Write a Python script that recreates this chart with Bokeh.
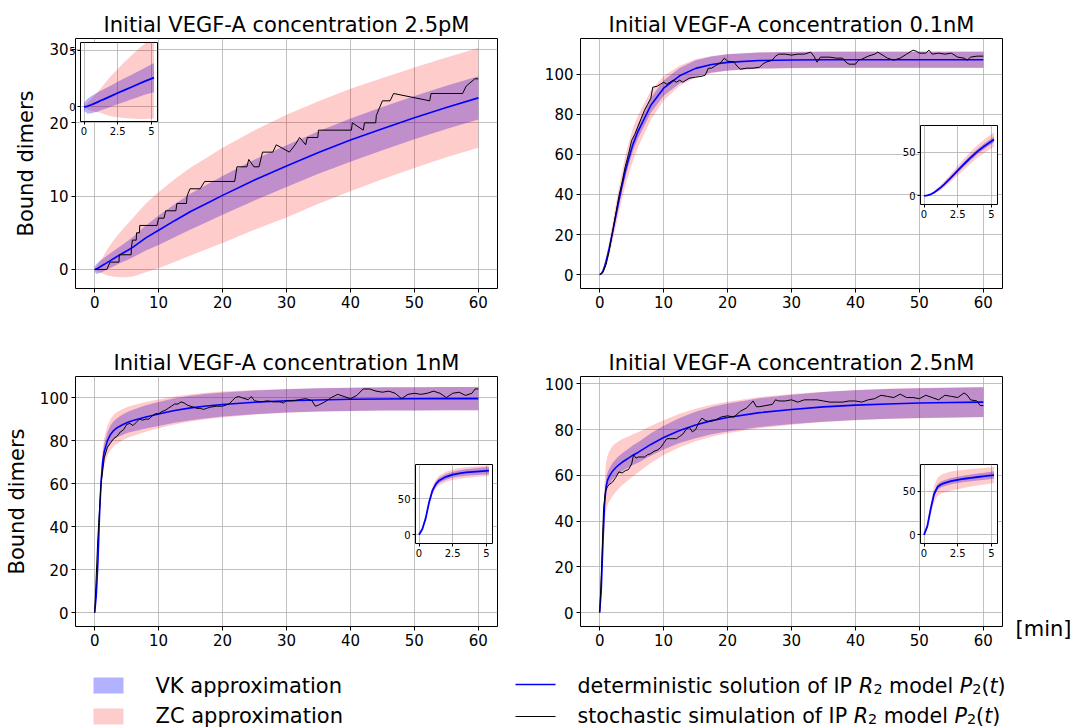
import numpy as np
from jinja2 import Template
from bokeh.plotting import figure
from bokeh.models import Range1d, FixedTicker, CustomJSTickFormatter, ColumnDataSource
from bokeh.core.properties import value
from bokeh.embed import file_html
from bokeh.resources import INLINE

FONT = "DejaVu Sans"

# ---------------- data ----------------
TITLES = ["Initial VEGF-A concentration 2.5pM", "Initial VEGF-A concentration 0.1nM",
          "Initial VEGF-A concentration 1nM", "Initial VEGF-A concentration 2.5nM"]
X_TICKS = [0, 10, 20, 30, 40, 50, 60]
INSET_X_TICKS = [0, 2.5, 5]

T = [0, 0.25, 0.5, 0.75, 1, 1.25, 1.5, 2, 2.5, 3, 3.5, 4, 4.5, 5.2, 6, 8, 10, 12.5, 15, 17.5,
     20, 25, 30, 35, 40, 45, 50, 55, 60]

# deterministic solution P2(t)
det_25pM = [0, .06, .17, .3, .43, .57, .7, .97, 1.24, 1.5, 1.76, 2.02, 2.28, 2.62, 3.05, 4.3, 5.35,
            6.65, 7.9, 9.0, 10.1, 12.2, 14.1, 15.95, 17.65, 19.2, 20.7, 22.1, 23.4]
det_01nM = [0, .5, 1.8, 3.9, 6.7, 9.8, 13.3, 21, 29, 37, 44.5, 51.5, 57.5, 65, 71.5, 84.5, 93, 99.2,
            102.9, 104.8, 105.9, 106.8, 107.1, 107.2, 107.2, 107.2, 107.2, 107.2, 107.2]
det_1nM = [0, 8, 23, 45, 61, 70, 75, 80, 83, 84.8, 86, 86.8, 87.6, 88.5, 89.3, 91, 92.4, 94, 95.2,
           96.1, 96.8, 97.8, 98.5, 98.9, 99.2, 99.35, 99.45, 99.5, 99.5]
det_25nM = [0, 10, 30, 47, 55, 58, 59.5, 61.8, 63.3, 64.6, 65.7, 66.6, 67.5, 68.8, 70, 73.5, 76.5,
            79.6, 82, 83.9, 85.3, 87.4, 88.8, 89.9, 90.7, 91.2, 91.6, 91.8, 92.0]

# VK approximation half-width
vk_25pM = [.35, .65, .75, .8, .85, .87, .9, .95, 1.0, 1.05, 1.1, 1.15, 1.2, 1.3, 1.4, 1.7, 2.0, 2.25,
           2.45, 2.55, 2.65, 2.8, 2.85, 2.9, 2.95, 2.95, 2.95, 2.95, 2.95]
vk_01nM = [0, .3, .6, .9, 1.2, 1.4, 1.6, 2.0, 2.3, 2.6, 2.8, 3.0, 3.15, 3.3, 3.5, 3.7, 3.8, 3.9, 4.0,
           4.0, 4.0, 4.0, 4.0, 4.0, 4.0, 4.0, 4.0, 4.0, 4.0]
vk_1nM = [0, 1, 2, 2.8, 3.2, 3.4, 3.6, 3.9, 4.1, 4.3, 4.45, 4.6, 4.75, 4.9, 5.1, 5.4, 5.6, 5.7, 5.7,
          5.65, 5.6, 5.5, 5.4, 5.4, 5.4, 5.4, 5.4, 5.4, 5.4]
vk_25nM = [0, 1.5, 2.5, 3.0, 3.3, 3.4, 3.5, 3.6, 3.7, 3.8, 3.9, 4.0, 4.1, 4.3, 4.5, 4.9, 5.2, 5.5, 5.8,
           6.0, 6.1, 6.3, 6.4, 6.5, 6.5, 6.5, 6.5, 6.5, 6.5]

# ZC approximation half-width
zc_25pM = [0, .3, .5, .7, .9, 1.1, 1.35, 1.8, 2.15, 2.5, 2.8, 3.1, 3.35, 3.65, 4.0, 4.7, 5.2, 5.65,
           6.0, 6.25, 6.5, 6.8, 7.0, 7.0, 7.0, 6.9, 6.85, 6.8, 6.8]
zc_01nM = [0, .5, 1.0, 1.6, 2.3, 2.9, 3.5, 4.6, 5.5, 6.3, 6.9, 7.4, 7.8, 8.2, 8.0, 7.2, 6.1, 5.0, 4.5,
           4.3, 4.2, 4.1, 4.1, 4.1, 4.1, 4.1, 4.1, 4.1, 4.1]
zc_1nM = [0, 1.5, 3, 4.5, 5.5, 6.1, 6.5, 7.0, 7.2, 7.3, 7.3, 7.3, 7.25, 7.2, 7.1, 6.9, 6.7, 6.5, 6.3,
          6.15, 6.0, 5.7, 5.5, 5.4, 5.4, 5.4, 5.4, 5.4, 5.4]
zc_25nM = [0, 3.5, 7, 9.5, 10.5, 10.8, 11, 11, 10.7, 10.4, 10.1, 9.8, 9.5, 9.2, 8.8, 8.1, 7.6, 7.3,
           7.1, 7.0, 6.9, 6.8, 6.7, 6.6, 6.6, 6.6, 6.6, 6.6, 6.6]

# stochastic simulation (time, bound dimers)
sto_25pM = [(0, 0), (1.9, 0), (2.4, 1), (3.8, 1), (3.85, 2), (5.7, 2), (5.75, 3), (5.9, 4), (6.5, 4),
            (6.55, 5), (7.0, 5), (7.05, 6), (9.75, 6), (10.0, 7), (10.85, 7), (11.1, 8), (12.7, 8),
            (12.85, 9), (14.35, 9), (14.45, 10), (14.9, 11), (16.5, 11), (17.2, 12), (21.9, 12),
            (22.25, 14), (23.8, 14), (24.1, 15), (24.9, 14), (25.7, 14), (26.25, 16), (27.85, 16),
            (28.4, 17), (30.45, 16), (31.35, 17), (32.05, 18), (33.0, 17), (33.25, 18), (34.9, 18),
            (35.0, 19), (40.15, 19), (40.3, 20), (42.0, 19), (42.2, 20), (43.95, 20), (44.05, 21),
            (45.0, 23), (46.2, 23), (46.75, 24), (52.4, 23), (52.6, 24), (57.55, 24), (58.1, 25),
            (59.45, 26), (60, 26)]
sto_01nM = [(0, 0), (0.5, 1), (1, 5), (1.5, 12), (2, 21), (2.5, 30), (3, 39), (3.5, 46), (4, 54),
            (4.5, 60), (5, 67), (5.5, 70), (6, 74), (6.5, 78), (7, 82), (7.5, 85), (8, 88), (8.3, 93.5),
            (9, 94), (9.5, 95), (10, 96), (10.5, 95), (11, 96), (11.5, 97), (12, 96), (12.5, 97),
            (13, 96), (13.5, 97), (14, 98), (15, 98.5), (16, 99), (16.5, 99.5), (17, 103), (17.5, 103),
            (18, 104), (18.5, 105), (19, 106), (19.5, 108), (20, 106.5), (21, 106), (21.5, 104),
            (22, 102.5), (23, 103), (24, 103), (25, 103.5), (25.5, 105), (26, 106), (27, 107),
            (27.5, 109), (28, 110), (29, 110), (30, 109.5), (31, 110), (32, 110), (33, 111),
            (33.5, 109), (34, 106), (34.5, 108.5), (36, 108.5), (37, 108), (38, 108), (38.5, 106),
            (39, 105), (40, 105), (40.5, 107), (41, 107.5), (42, 109), (43, 110), (43.5, 111),
            (44.5, 109), (45, 108), (46, 107), (47, 108), (48, 110), (49, 112), (49.5, 111.5),
            (50, 110.5), (51, 110.5), (51.5, 112), (52, 110), (53, 110.5), (54, 110), (55, 110.5),
            (56, 108.5), (57, 108), (57.5, 107), (58, 108.5), (59, 109), (60, 109)]
sto_1nM = [(0, 0), (0.5, 35), (1, 60), (1.5, 72), (2, 77), (2.5, 79), (3, 81), (3.5, 82), (4, 84),
           (4.5, 85), (5, 87.5), (5.5, 88), (6, 87), (6.5, 88.5), (7, 90), (7.5, 89.5), (8, 90),
           (8.5, 90), (9, 91.5), (9.5, 92.5), (10, 92.5), (10.5, 93.5), (11, 94), (11.5, 95), (12, 96),
           (12.5, 97), (13, 97), (13.5, 98), (14, 97.5), (14.5, 96.5), (15, 96), (15.5, 95.5), (16, 95),
           (16.5, 95), (17, 94.5), (17.5, 95), (18, 95.5), (19, 96), (20, 96), (21, 97), (21.5, 98.5),
           (22, 100), (22.5, 100.5), (23, 100), (24, 99), (24.5, 100.5), (25, 98.5), (26, 98),
           (27, 98.5), (28, 98), (29, 98), (29.5, 97.5), (30, 98.5), (31, 98.5), (32, 99), (33, 99.5),
           (34, 98.5), (34.5, 96), (35, 96.5), (36, 98), (37, 100), (38, 101.5), (39, 100.5),
           (40, 99.5), (41, 101), (42, 104), (43, 104), (44, 103), (45, 102.5), (46, 103), (47, 102),
           (48, 99.5), (49, 101.5), (50, 102), (51, 101.5), (52, 102), (53, 103), (54, 102), (55, 100),
           (56, 102), (57, 102.5), (58, 101), (59, 102), (59.5, 104), (60, 104)]
sto_25nM = [(0, 0), (0.3, 20), (0.6, 45), (0.9, 53), (1.2, 55), (1.5, 56), (2, 57), (2.5, 59),
            (3, 61.5), (3.5, 61), (4, 62), (4.5, 62.5), (5, 65), (5.3, 69), (5.7, 67.5), (6, 68),
            (7, 68), (7.5, 69), (8, 69.5), (8.5, 70.5), (9, 71), (9.5, 72), (10, 74), (10.5, 76),
            (11, 76), (12, 76), (12.5, 77), (13, 78), (13.5, 80), (14, 81), (14.5, 79), (15, 80),
            (15.5, 83), (16, 85), (16.5, 84), (17, 83.5), (18, 84), (19, 85.5), (20, 86), (21, 85.5),
            (22, 88), (23, 89.5), (23.5, 91), (24, 92.5), (24.5, 90), (25, 90), (26, 90.5), (27, 91),
            (27.5, 93), (28, 92.5), (29, 92.5), (30, 93), (31, 92), (31.5, 92.5), (32, 93), (33, 93),
            (34, 93), (35, 92.5), (36, 92), (37, 92), (38, 92), (39, 92.5), (40, 92.5), (41, 92),
            (42, 93), (43, 93.5), (44, 95), (45, 94.5), (46, 94), (47, 95.5), (48, 94), (49, 94),
            (50, 93.5), (51, 95), (52, 94), (53, 93), (54, 95), (55, 94.5), (56, 94), (56.5, 95),
            (57, 96), (57.5, 95), (58, 93), (59, 92.5), (59.5, 90.5), (60, 90.5)]

for arr in (det_25pM, det_01nM, det_1nM, det_25nM, vk_25pM, vk_01nM, vk_1nM, vk_25nM,
            zc_25pM, zc_01nM, zc_1nM, zc_25nM):
    assert len(arr) == len(T), len(arr)

# axis limits (as in the picture)
Y_LIMITS = [(-2.6, 31.5), (-6.9, 117.8), (-6.4, 109.8), (-6.1, 103.2)]
Y_TICKS = [[0, 10, 20, 30], [0, 20, 40, 60, 80, 100], [0, 20, 40, 60, 80, 100], [0, 20, 40, 60, 80, 100]]
INSET_Y_LIMITS = [(-1.3, 5.75), (-9.9, 81), (-12, 97), (-10, 81)]
INSET_Y_TICKS = [[0, 5], [0, 50], [0, 50], [0, 50]]
INSET_T_MAX = 5.2

# ---------------- styling helpers ----------------
def style_axes(p, tick_size, tick_out, standoff):
    for ax in list(p.xaxis) + list(p.yaxis):
        ax.axis_line_color = None
        ax.major_tick_line_color = "black"
        ax.major_tick_line_width = 1
        ax.major_tick_in = 0
        ax.major_tick_out = tick_out
        ax.minor_tick_line_color = None
        ax.major_label_text_font = FONT
        ax.major_label_text_font_size = tick_size
        ax.major_label_text_color = "black"
        ax.major_label_standoff = standoff
    p.grid.grid_line_color = "#b0b0b0"
    p.grid.grid_line_width = 0.8


def main_panel(name, title, det, vk, zc, sto, ylim, yticks, ylabel, bl, br):
    t = np.array(T, dtype=float)
    d = np.array(det, dtype=float)
    v = np.array(vk, dtype=float)
    z = np.array(zc, dtype=float)
    src = ColumnDataSource(dict(t=t, det=d, vk_lo=d - v, vk_hi=d + v, zc_lo=d - z, zc_hi=d + z))
    p = figure(name=name, title=title, frame_width=422, frame_height=250,
               x_range=Range1d(-3, 63), y_range=Range1d(*ylim),
               toolbar_location=None, output_backend="svg",
               min_border_left=bl, min_border_right=br, min_border_top=50, min_border_bottom=36,
               background_fill_color="white", border_fill_color=None,
               outline_line_color="black", outline_line_width=1)
    p.title.text_font = FONT
    p.title.text_font_size = "21px"
    p.title.text_font_style = "normal"
    p.title.text_color = "black"
    p.title.align = "center"
    p.title.standoff = 3
    p.xaxis.ticker = FixedTicker(ticks=X_TICKS)
    p.yaxis.ticker = FixedTicker(ticks=yticks)
    style_axes(p, "15px", 4, 3)
    if ylabel:
        p.yaxis.axis_label = ylabel
        p.yaxis.axis_label_text_font = FONT
        p.yaxis.axis_label_text_font_size = "21px"
        p.yaxis.axis_label_text_font_style = "normal"
        p.yaxis.axis_label_text_color = "black"
        p.yaxis.axis_label_standoff = 8
    p.varea(x="t", y1="vk_lo", y2="vk_hi", source=src, fill_color="blue", fill_alpha=0.3)
    p.varea(x="t", y1="zc_lo", y2="zc_hi", source=src, fill_color="red", fill_alpha=0.2)
    p.line(x="t", y="det", source=src, line_color="blue", line_width=1.6)
    st = [a for a, b in sto]
    sy = [b for a, b in sto]
    p.line(x=st, y=sy, line_color="black", line_width=1)
    return p


def inset_panel(name, det, vk, zc, ylim, yticks):
    n = sum(1 for x in T if x <= INSET_T_MAX)
    t = np.array(T[:n], dtype=float)
    d = np.array(det[:n], dtype=float)
    v = np.array(vk[:n], dtype=float)
    z = np.array(zc[:n], dtype=float)
    src = ColumnDataSource(dict(t=t, det=d, vk_lo=d - v, vk_hi=d + v, zc_lo=d - z, zc_hi=d + z))
    p = figure(name=name, frame_width=77, frame_height=79,
               x_range=Range1d(-0.26, 5.46), y_range=Range1d(*ylim),
               toolbar_location=None, output_backend="svg",
               min_border_left=24, min_border_right=4, min_border_top=4, min_border_bottom=20,
               background_fill_color="white", border_fill_color=None,
               outline_line_color="black", outline_line_width=1)
    p.xaxis.ticker = FixedTicker(ticks=INSET_X_TICKS)
    p.yaxis.ticker = FixedTicker(ticks=yticks)
    p.xaxis.formatter = CustomJSTickFormatter(code="return String(tick);")
    p.yaxis.formatter = CustomJSTickFormatter(code="return String(tick);")
    style_axes(p, "10px", 3, 2)
    p.varea(x="t", y1="vk_lo", y2="vk_hi", source=src, fill_color="blue", fill_alpha=0.3)
    p.varea(x="t", y1="zc_lo", y2="zc_hi", source=src, fill_color="red", fill_alpha=0.2)
    p.line(x="t", y="det", source=src, line_color="blue", line_width=1.8)
    return p


dets = [det_25pM, det_01nM, det_1nM, det_25nM]
vks = [vk_25pM, vk_01nM, vk_1nM, vk_25nM]
zcs = [zc_25pM, zc_01nM, zc_1nM, zc_25nM]
stos = [sto_25pM, sto_01nM, sto_1nM, sto_25nM]
ylabels = ["Bound dimers", None, "Bound dimers", None]
borders = [(75, 8), (60, 8), (80, 8), (60, 8)]

mains = []
insets = []
for i in range(4):
    mains.append(main_panel(f"main{i}", TITLES[i], dets[i], vks[i], zcs[i], stos[i], Y_LIMITS[i],
                            Y_TICKS[i], ylabels[i], borders[i][0], borders[i][1]))
    insets.append(inset_panel(f"inset{i}", dets[i], vks[i], zcs[i], INSET_Y_LIMITS[i], INSET_Y_TICKS[i]))

# ---------------- text-only canvases (page-pixel coordinates) ----------------
def text_canvas(name, left, top, width, height):
    f = figure(name=name, width=width, height=height,
               x_range=Range1d(left, left + width), y_range=Range1d(top + height, top),
               toolbar_location=None, output_backend="svg", min_border=0,
               x_axis_location=None, y_axis_location=None, outline_line_color=None,
               background_fill_color=None, border_fill_color=None)
    f.grid.visible = False
    return f


W = {' ': .318, '(': .390, ')': .390, '2': .636, 'I': .295, 'P': .603, 'R': .695, 'a': .613,
     'c': .550, 'd': .635, 'e': .615, 'f': .352, 'h': .634, 'i': .278, 'l': .278, 'm': .974,
     'n': .634, 'o': .612, 'r': .411, 's': .521, 't': .392, 'u': .634}


def rich_text(fig, x0, y0, pieces, size):
    x = x0
    for s, style, scale, dy in pieces:
        fs = size * scale
        w = sum(W.get(c, 0.6) for c in s) * fs
        lead = (len(s) - len(s.lstrip(' '))) * W[' '] * fs
        txt = s.strip(' ')
        if txt:
            fig.text(x=[x + lead], y=[y0 + dy], text=[txt], text_font=value(FONT),
                     text_font_size=f"{fs:.1f}px", text_font_style=style,
                     text_baseline="alphabetic", text_align="left", text_color="black")
        x += w


LEG_TOP = 662
leg = text_canvas("legend", 0, LEG_TOP, 1071, 727 - LEG_TOP)
rows_y = [685, 715]
leg.quad(left=[93], right=[123], top=[677], bottom=[693], fill_color="blue", fill_alpha=0.3, line_color=None)
leg.quad(left=[93], right=[123], top=[708], bottom=[724], fill_color="red", fill_alpha=0.2, line_color=None)
leg.text(x=[155, 155], y=rows_y, text=["VK approximation", "ZC approximation"], text_font=value(FONT),
         text_font_size="21px", text_baseline="alphabetic", text_color="black")
leg.segment(x0=[515], y0=[684], x1=[555], y1=[684], line_color="blue", line_width=1.6)
leg.segment(x0=[515], y0=[716], x1=[555], y1=[716], line_color="black", line_width=1.2)

tail = [("R", "italic", 1, 0), ("2", "normal", 0.7, 3.5), (" model ", "normal", 1, 0),
        ("P", "italic", 1, 0), ("2", "normal", 0.7, 3.5), ("(", "normal", 1, 0),
        ("t", "italic", 1, 0), (")", "normal", 1, 0)]
rich_text(leg, 577, rows_y[0], [("deterministic solution of IP ", "normal", 1, 0)] + tail, 20.6)
rich_text(leg, 577, rows_y[1], [("stochastic simulation of IP ", "normal", 1, 0)] + tail, 20.6)

unit = text_canvas("unit", 1008, 612, 63, 36)
unit.text(x=[1015], y=[628], text=["[min]"], text_font=value(FONT), text_font_size="21px",
          text_baseline="alphabetic", text_align="left", text_color="black")

# ---------------- page ----------------
frames = [(75, 38), (580, 38), (75, 376), (580, 376)]
inset_frames = [(80, 42), (920, 125), (415, 464), (920, 464)]
placements = []
for i in range(4):
    placements.append((f"main{i}", frames[i][0] - borders[i][0], frames[i][1] - 50))
for i in range(4):
    placements.append((f"inset{i}", inset_frames[i][0] - 24, inset_frames[i][1] - 4))
placements.append(("legend", 0, LEG_TOP))
placements.append(("unit", 1008, 612))

PAGE = Template("""<!DOCTYPE html>
<html lang="en">
<head>
<meta charset="utf-8">
<title>{{ title }}</title>
<style>
html, body { margin: 0; padding: 0; background: #ffffff; }
#page { position: relative; width: 1071px; height: 727px; overflow: hidden; background: #ffffff; }
.slot { position: absolute; }
</style>
{{ bokeh_css if bokeh_css }}
{{ bokeh_js if bokeh_js }}
</head>
<body>
<div id="page">
{% for name, x, y in placements %}<div class="slot" style="left:{{ x }}px; top:{{ y }}px;"><div id="{{ roots[name].elementid }}"></div></div>
{% endfor %}
</div>
{{ plot_script }}
</body>
</html>
""")

p = mains + insets + [leg, unit]
html = file_html(p, INLINE, title="VEGF-A bound dimers", template=PAGE,
                 template_variables={"placements": placements})
open("out.html", "w").write(html)
